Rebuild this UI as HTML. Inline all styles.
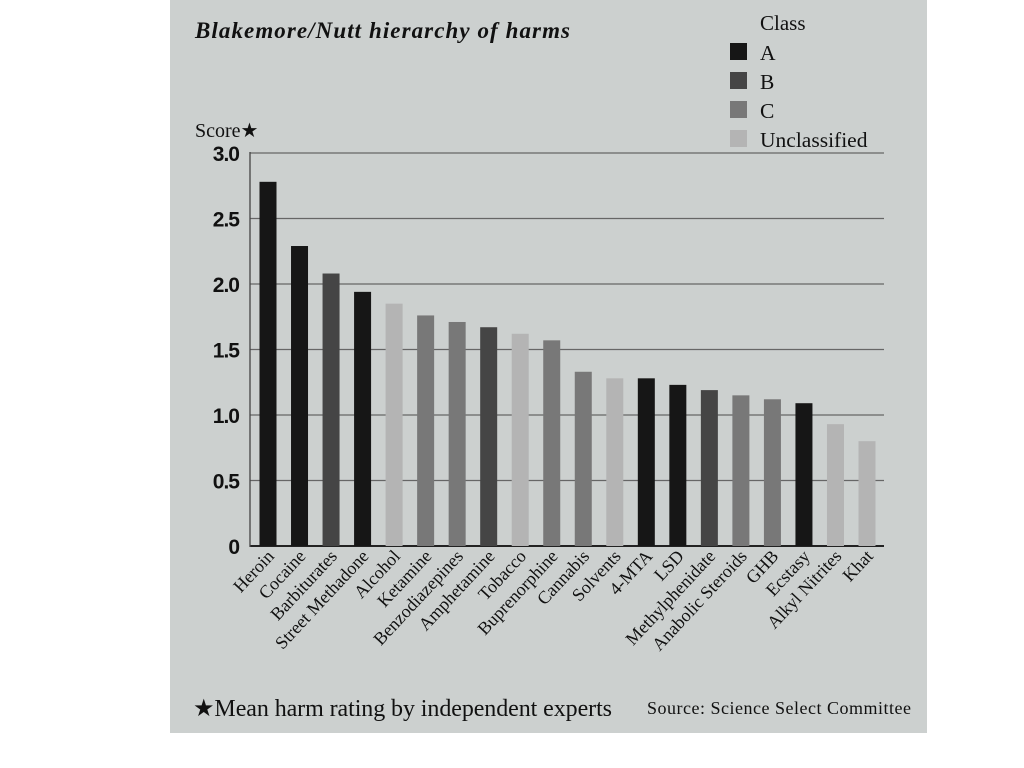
<!DOCTYPE html>
<html><head><meta charset="utf-8"><style>
body{margin:0;background:#fff;width:1024px;height:768px;overflow:hidden}
svg{display:block}
.serif{font-family:"Liberation Serif",serif}
.sans{font-family:"Liberation Sans",sans-serif}
</style></head><body>
<svg id="chart" width="1024" height="768">
<rect x="170" y="0" width="757" height="733" fill="#ccd0cf"/>
<text x="195" y="38" class="serif" font-size="23" font-weight="bold" font-style="italic" fill="#111" textLength="375">Blakemore/Nutt hierarchy of harms</text>
<text x="760" y="30" class="serif" font-size="21" fill="#111">Class</text>
<g id="legend"></g>
<text x="195" y="137" class="serif" font-size="20" fill="#111">Score★</text>
<g id="grid"></g><g id="bars"></g><g id="xl"></g>
<text x="193" y="716" class="serif" font-size="24" fill="#111" textLength="419">★Mean harm rating by independent experts</text>
<text x="647" y="714" class="serif" font-size="18" fill="#111" textLength="264">Source: Science Select Committee</text>
</svg>
<script>
const categories=["Heroin","Cocaine","Barbiturates","Street Methadone","Alcohol","Ketamine","Benzodiazepines","Amphetamine","Tobacco","Buprenorphine","Cannabis","Solvents","4-MTA","LSD","Methylphenidate","Anabolic Steroids","GHB","Ecstasy","Alkyl Nitrites","Khat"];
const values=[2.78,2.29,2.08,1.94,1.85,1.76,1.71,1.67,1.62,1.57,1.33,1.28,1.28,1.23,1.19,1.15,1.12,1.09,0.93,0.80];
const classes=["A","A","B","A","U","C","C","B","U","C","C","U","A","A","B","C","C","A","U","U"];
const ticks=[0,0.5,1.0,1.5,2.0,2.5,3.0];
const tickLabels=["0","0.5","1.0","1.5","2.0","2.5","3.0"];
const legendKeys=["A","B","C","U"];
const legendLabels=["A","B","C","Unclassified"];
const colors={A:"#161616",B:"#454545",C:"#787878",U:"#b4b4b4"};
const NS="http://www.w3.org/2000/svg";
const y=v=>546-v*131;
const x=i=>268+i*(867-268)/(categories.length-1);
function mk(t,a,p){const e=document.createElementNS(NS,t);for(const k in a)e.setAttribute(k,a[k]);p.appendChild(e);return e;}
const grid=document.getElementById('grid');
ticks.forEach((t,i)=>{
 const l=mk('line',{x1:250,x2:884,y1:y(t),y2:y(t),stroke:t===0?'#222':'#666','stroke-width':t===0?2:1.3},grid);
 
 
 const tx=mk('text',{x:239,y:y(t)+8,'text-anchor':'end','font-size':21,'font-weight':'bold',fill:'#111','font-family':'Liberation Sans, sans-serif','letter-spacing':'-1'},grid);
 tx.textContent=tickLabels[i];
 
 
});
const ax=mk('line',{x1:250,x2:250,y1:152,y2:547,stroke:'#444','stroke-width':1.3},grid);


const bars=document.getElementById('bars'),xl=document.getElementById('xl');
categories.forEach((c,i)=>{
 const r=mk('rect',{x:x(i)-8.5,y:y(values[i]),width:17,height:y(0)-y(values[i]),fill:colors[classes[i]]},bars);
 
 
 const t=mk('text',{x:0,y:0,'text-anchor':'end','font-size':18,fill:'#111','font-family':'Liberation Serif, serif',transform:`translate(${x(i)+7},${557}) rotate(-47)`},xl);
 t.textContent=c;
 
 
});
const lg=document.getElementById('legend');
legendKeys.forEach((k,i)=>{
 const r=mk('rect',{x:730,y:43+i*29,width:17,height:17,fill:colors[k]},lg);
 
 
 const t=mk('text',{x:760,y:60+i*29,'font-size':21.5,fill:'#111','font-family':'Liberation Serif, serif'},lg);
 t.textContent=legendLabels[i];
 
 
});
</script>
</body></html>
